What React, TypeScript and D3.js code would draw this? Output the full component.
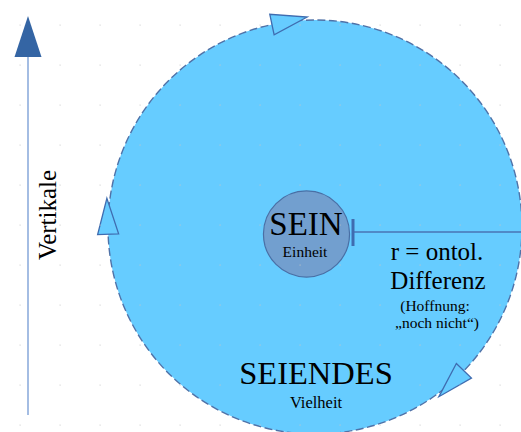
import { useEffect, useRef } from "react";
import * as d3 from "d3";

// diagram values
const arrowAngles = [-102, 178, 44]; // degrees on the outer circle, clockwise heads
const innerLines = ["SEIN", "Einheit"];
const radiusLines = ["r = ontol.", "Differenz", "(Hoffnung:", "\u201Enoch nicht\u201C)"];
const outerLines = ["SEIENDES", "Vielheit"];
const axisLabel = ["Vertikale"];
const gridCols = d3.range(0, 13);
const gridRows = d3.range(0, 11);

const W = 521;
const H = 432;
const FONT = "'Liberation Serif', 'Times New Roman', serif";

export default function App() {
    const svgRef = useRef<SVGSVGElement>(null);

    useEffect(() => {
        const svg = d3.select(svgRef.current);
        svg.selectAll("*").remove();

        const cx = 315, cy = 227;
        const r = d3.scaleLinear().domain([0, 1]).range([0, 207]);
        const deg = (a: number) => (a * Math.PI) / 180;

        // background dot grid
        const gx = d3.scaleLinear().domain([0, 1]).range([20, 60]);
        const gy = d3.scaleLinear().domain([0, 1]).range([25, 65]);

        // outer circle (SEIENDES)
        svg.append("circle")
            .attr("cx", cx).attr("cy", cy).attr("r", r(1))
            .attr("fill", "#66ccff")
            .attr("stroke", "#4f72a8")
            .attr("stroke-width", 1.4)
            .attr("stroke-dasharray", "8 3.5");

        // arrow heads along the circle
        const aLen = 36, aHalf = 10.5;
        svg.append("g").selectAll("path")
            .data(arrowAngles)
            .join("path")
            .attr("d", (a) => {
                const t = deg(a);
                const bx = cx + r(1) * Math.cos(t), by = cy + r(1) * Math.sin(t);
                const ux = Math.cos(t), uy = Math.sin(t);     // radial
                const tx = -Math.sin(t), ty = Math.cos(t);    // tangent
                const p = d3.path();
                p.moveTo(bx - ux * aHalf, by - uy * aHalf);
                p.lineTo(bx + ux * aHalf, by + uy * aHalf);
                p.lineTo(bx + tx * aLen, by + ty * aLen);
                p.closePath();
                return p.toString();
            })
            .attr("fill", "#66ccff")
            .attr("stroke", "#3f6cb0")
            .attr("stroke-width", 1.3)
            .attr("stroke-linejoin", "miter");

        // radius line with tick
        const ly = 232, lx0 = 353;
        svg.append("line")
            .attr("x1", lx0).attr("x2", W + 2).attr("y1", ly).attr("y2", ly)
            .attr("stroke", "#4a75b5").attr("stroke-width", 1.6);
        svg.append("line")
            .attr("x1", lx0).attr("x2", lx0).attr("y1", ly - 13).attr("y2", ly + 14)
            .attr("stroke", "#3f6cb0").attr("stroke-width", 3);

        // inner circle (SEIN)
        svg.append("circle")
            .attr("cx", 306.5).attr("cy", 234).attr("r", r(0.208))
            .attr("fill", "#729fcf")
            .attr("stroke", "#4a6fa5")
            .attr("stroke-width", 1.2);

        // grid dots on top, faint
        const dots = gridCols.flatMap((i) => gridRows.map((j) => [gx(i), gy(j)]));
        svg.append("g").selectAll("rect")
            .data(dots)
            .join("rect")
            .attr("x", (d) => d[0] - 0.5).attr("y", (d) => d[1] - 0.5)
            .attr("width", 1.2).attr("height", 1.2)
            .attr("fill", "#c8c8c8").attr("opacity", 0.7);

        const text = (s: string, x: number, y: number, size: number) =>
            svg.append("text")
                .attr("x", x).attr("y", y)
                .attr("text-anchor", "middle")
                .attr("font-family", FONT)
                .attr("font-size", size)
                .attr("fill", "#000")
                .text(s);

        text(innerLines[0], 306, 235, 33);
        text(innerLines[1], 305, 257, 15.5);

        text(radiusLines[0], 437, 260, 25);
        text(radiusLines[1], 438, 289, 25);
        text(radiusLines[2], 435, 310.5, 15.5);
        text(radiusLines[3], 437, 328, 15.5);

        text(outerLines[0], 316, 384, 32.5);
        text(outerLines[1], 316, 408, 16.5);

        // vertical axis arrow
        svg.append("line")
            .attr("x1", 28).attr("x2", 28).attr("y1", 56).attr("y2", 415)
            .attr("stroke", "#a4bde3").attr("stroke-width", 2);
        const head = d3.path();
        head.moveTo(28, 16);
        head.lineTo(41.5, 57);
        head.lineTo(14.5, 57);
        head.closePath();
        svg.append("path").attr("d", head.toString()).attr("fill", "#3465a4");

        svg.append("text")
            .attr("transform", "translate(56,215) rotate(-90)")
            .attr("text-anchor", "middle")
            .attr("font-family", FONT)
            .attr("font-size", 25)
            .attr("fill", "#000")
            .text(axisLabel[0]);
    }, []);

    return (
        <svg
            ref={svgRef}
            width={W}
            height={H}
            viewBox={`0 0 ${W} ${H}`}
            style={{ position: "fixed", left: 0, top: 0, background: "#fff" }}
        />
    );
}
